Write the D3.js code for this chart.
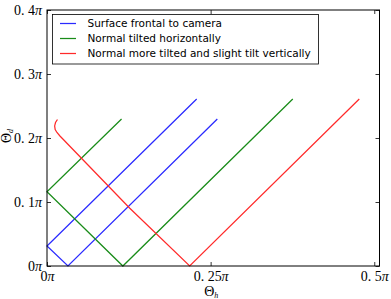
<!DOCTYPE html>
<html><head><meta charset="utf-8">
<script src="https://cdn.jsdelivr.net/npm/d3@7"></script>
<style>body{margin:0;background:#fff}svg{display:block}</style>
</head><body><svg id="c" width="391" height="299"></svg>
<script>
// values are in units of pi
const xTicks = [0, 0.25, 0.5];
const xTickLabels = ["0", "0. 25", "0. 5"];
const yTicks = [0, 0.1, 0.2, 0.3, 0.4];
const yTickLabels = ["0", "0. 1", "0. 2", "0. 3", "0. 4"];
const seriesNames = ["Surface frontal to camera", "Normal tilted horizontally", "Normal more tilted and slight tilt vertically"];
const seriesColors = ["#2a2aff", "#198c19", "#ff2a2a"];
const blueThetaH = [0.2602, 0.0320, 0.0000, 0.2287];
const blueThetaD = [0.2297, 0.0000, 0.0313, 0.2609];
const greenThetaH = [0.1139, 0.0000, 0.1159, 0.3755];
const greenThetaD = [0.2297, 0.1161, 0.0000, 0.2609];
const redThetaH = [0.0160, 0.0130, 0.0117, 0.0125, 0.0152, 0.0198, 0.1265, 0.2180, 0.4771];
const redThetaD = [0.2289, 0.2242, 0.2188, 0.2133, 0.2086, 0.2031, 0.0902, 0.0000, 0.2609];

const svg = d3.select("#c");
const L = 47, R = 379.5, T = 10, B = 266;
const x = d3.scaleLinear().domain([0, 0.508]).range([L, R]);
const y = d3.scaleLinear().domain([0, 0.4]).range([B, T]);
const mathFont = "'Liberation Serif', 'DejaVu Serif', serif";

function piLabel(sel, txt) {
  sel.text(null);
  sel.append("tspan").text(txt);
  sel.append("tspan").attr("font-style", "italic").text("π");
}

// series
const series = [
  [blueThetaH, blueThetaD],
  [greenThetaH, greenThetaD],
  [redThetaH, redThetaD]
];
const line = d3.line().x(d => x(d[0])).y(d => y(d[1]));
series.forEach((s, i) => {
  const pts = s[0].map((h, k) => [h, s[1][k]]);
  svg.append("path").attr("d", line(pts)).attr("fill", "none")
    .attr("stroke", seriesColors[i]).attr("stroke-width", 1.25);
});

// axes (ticks inward on all four sides)
const ax = [
  {g: d3.axisBottom(x).tickValues(xTicks).tickSize(-4), t: `translate(0,${B})`, lab: true, lbls: xTickLabels},
  {g: d3.axisTop(x).tickValues(xTicks).tickSize(-4), t: `translate(0,${T})`, lab: false},
  {g: d3.axisLeft(y).tickValues(yTicks).tickSize(-4), t: `translate(${L},0)`, lab: true, lbls: yTickLabels},
  {g: d3.axisRight(y).tickValues(yTicks).tickSize(-4), t: `translate(${R},0)`, lab: false}
];
ax.forEach((a, ai) => {
  const g = svg.append("g").attr("transform", a.t).call(a.g);
  g.select(".domain").remove();
  g.selectAll(".tick line").attr("stroke", "#000").attr("stroke-width", 0.8);
  if (!a.lab) { g.selectAll(".tick text").remove(); return; }
  g.selectAll(".tick text")
    .attr("font-family", mathFont).attr("font-size", 14).attr("fill", "#000")
    .each(function(d, i) { piLabel(d3.select(this), a.lbls[i]); });
  if (ai === 0) g.selectAll(".tick text").attr("y", 15).attr("dy", null);
  else g.selectAll(".tick text").attr("x", -5).attr("dy", "0.33em");
});

// frame
svg.append("rect").attr("x", L).attr("y", T).attr("width", R - L).attr("height", B - T)
  .attr("fill", "none").attr("stroke", "#000").attr("stroke-width", 1);

// axis labels
const xl = svg.append("text").attr("x", (L + R) / 2 - 2).attr("y", 296)
  .attr("text-anchor", "middle").attr("font-family", mathFont).attr("font-size", 14);
xl.append("tspan").text("Θ");
xl.append("tspan").attr("font-size", 8).attr("font-style", "italic").attr("dy", 2).text("h");

const yl = svg.append("text").attr("transform", `translate(11,${(T + B) / 2 - 2}) rotate(-90)`)
  .attr("text-anchor", "middle").attr("font-family", mathFont).attr("font-size", 14);
yl.append("tspan").text("Θ");
yl.append("tspan").attr("font-size", 8).attr("font-style", "italic").attr("dy", 2).text("d");

// legend
const lg = svg.append("g");
lg.append("rect").attr("x", 52.5).attr("y", 14.5).attr("width", 266).attr("height", 49.5)
  .attr("fill", "#fff").attr("stroke", "#000").attr("stroke-width", 0.8);
seriesNames.forEach((n, i) => {
  const yy = 23.5 + i * 15;
  lg.append("line").attr("x1", 60).attr("x2", 76).attr("y1", yy).attr("y2", yy)
    .attr("stroke", seriesColors[i]).attr("stroke-width", 1.25);
  lg.append("text").attr("x", 87.5).attr("y", yy).attr("dy", "0.35em")
    .attr("font-family", "'DejaVu Sans', sans-serif").attr("font-size", 10.5).attr("fill", "#000").text(n);
});
</script>
</body></html>
